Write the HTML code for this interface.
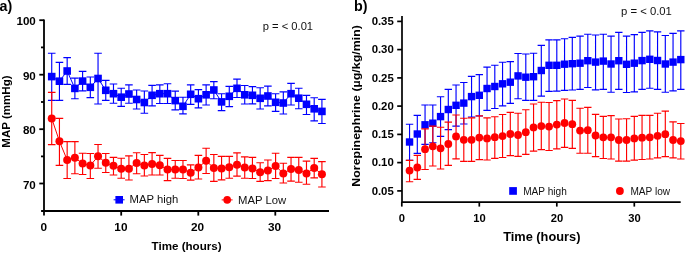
<!DOCTYPE html>
<html><head><meta charset="utf-8"><style>
html,body{margin:0;padding:0;background:#fff;}
body{width:685px;height:253px;overflow:hidden;}
svg{display:block;will-change:transform;}
</style></head><body>
<svg width="685" height="253" viewBox="0 0 685 253" font-family="&quot;Liberation Sans&quot;, sans-serif">
<rect width="685" height="253" fill="#fff"/>
<g stroke="#000" stroke-width="1.8" fill="none">
<path d="M44 19.4V211M41.1 211H329"/>
<path d="M39.3 20.2H44"/>
<path d="M39.3 74.7H44"/>
<path d="M39.3 129.2H44"/>
<path d="M39.3 183.5H44"/>
<path d="M41 47.4H44"/>
<path d="M41 102.0H44"/>
<path d="M41 156.4H44"/>
<path d="M44 211V215.6"/>
<path d="M121.2 211V215.6"/>
<path d="M198.3 211V215.6"/>
<path d="M275.3 211V215.6"/>
</g>
<g font-family="&quot;Liberation Sans&quot;, sans-serif" font-weight="bold" font-size="11.6" fill="#000" text-anchor="end">
<text x="35.8" y="25.3">100</text>
<text x="35.8" y="79.8">90</text>
<text x="35.8" y="134.3">80</text>
<text x="35.8" y="188.6">70</text>
</g>
<g font-family="&quot;Liberation Sans&quot;, sans-serif" font-weight="bold" font-size="11.8" fill="#000" text-anchor="middle">
<text x="43.8" y="230.6">0</text>
<text x="120.9" y="230.6">10</text>
<text x="197.6" y="230.6">20</text>
<text x="274.6" y="230.6">30</text>
</g>
<text x="186.6" y="250" font-family="&quot;Liberation Sans&quot;, sans-serif" font-weight="bold" font-size="11.6" text-anchor="middle">Time (hours)</text>
<text transform="translate(10.0 111.6) rotate(-90) scale(1.08 1)" font-family="&quot;Liberation Sans&quot;, sans-serif" font-weight="bold" font-size="10.7" text-anchor="middle">MAP (mmHg)</text>
<text x="-0.5" y="10.7" font-family="&quot;Liberation Sans&quot;, sans-serif" font-weight="bold" font-size="14.3">a)</text>
<text x="262.7" y="30.3" font-family="&quot;Liberation Sans&quot;, sans-serif" font-size="11.2" fill="#111">p = &lt; 0.01</text>
<path d="M113.6 199.8H124.6" stroke="#0000ff" stroke-width="1"/>
<rect x="115.4" y="196.0" width="7.6" height="7.6" fill="#0000ff"/>
<text x="129.6" y="203.2" font-family="&quot;Liberation Sans&quot;, sans-serif" font-size="11.3" fill="#111">MAP high</text>
<path d="M221.7 199.9H232.6" stroke="#ff0000" stroke-width="1"/>
<circle cx="227.2" cy="199.9" r="3.8" fill="#ff0000"/>
<text x="238" y="203.6" font-family="&quot;Liberation Sans&quot;, sans-serif" font-size="11.3" fill="#111">MAP Low</text>
<path d="M51.72 53.20V100.30M47.92 53.20H55.52M47.92 100.30H55.52M59.44 62.30V100.30M55.64 62.30H63.24M55.64 100.30H63.24M67.16 57.60V84.40M63.36 57.60H70.96M63.36 84.40H70.96M74.88 78.10V98.70M71.08 78.10H78.68M71.08 98.70H78.68M82.60 71.30V90.90M78.80 71.30H86.40M78.80 90.90H86.40M90.32 77.00V97.60M86.52 77.00H94.12M86.52 97.60H94.12M98.04 53.20V104.00M94.24 53.20H101.84M94.24 104.00H101.84M105.76 80.40V100.30M101.96 80.40H109.56M101.96 100.30H109.56M113.48 84.00V103.20M109.68 84.00H117.28M109.68 103.20H117.28M121.20 88.20V106.30M117.40 88.20H125.00M117.40 106.30H125.00M128.92 84.80V103.20M125.12 84.80H132.72M125.12 103.20H132.72M136.64 90.00V109.00M132.84 90.00H140.44M132.84 109.00H140.44M144.36 91.00V113.20M140.56 91.00H148.16M140.56 113.20H148.16M152.08 85.30V105.90M148.28 85.30H155.88M148.28 105.90H155.88M159.80 84.80V103.50M156.00 84.80H163.60M156.00 103.50H163.60M167.52 83.70V103.50M163.72 83.70H171.32M163.72 103.50H171.32M175.24 91.10V109.80M171.44 91.10H179.04M171.44 109.80H179.04M182.96 97.20V113.80M179.16 97.20H186.76M179.16 113.80H186.76M190.68 84.80V104.30M186.88 84.80H194.48M186.88 104.30H194.48M198.40 89.60V107.90M194.60 89.60H202.20M194.60 107.90H202.20M206.12 84.80V105.00M202.32 84.80H209.92M202.32 105.00H209.92M213.84 81.60V98.70M210.04 81.60H217.64M210.04 98.70H217.64M221.56 93.70V110.60M217.76 93.70H225.36M217.76 110.60H225.36M229.28 86.40V106.60M225.48 86.40H233.08M225.48 106.60H233.08M237.00 79.10V97.50M233.20 79.10H240.80M233.20 97.50H240.80M244.72 85.50V104.00M240.92 85.50H248.52M240.92 104.00H248.52M252.44 86.60V103.90M248.64 86.60H256.24M248.64 103.90H256.24M260.16 87.70V109.00M256.36 87.70H263.96M256.36 109.00H263.96M267.88 86.10V105.80M264.08 86.10H271.68M264.08 105.80H271.68M275.60 93.70V111.40M271.80 93.70H279.40M271.80 111.40H279.40M283.32 91.80V114.00M279.52 91.80H287.12M279.52 114.00H287.12M291.04 83.40V105.00M287.24 83.40H294.84M287.24 105.00H294.84M298.76 88.20V108.70M294.96 88.20H302.56M294.96 108.70H302.56M306.48 95.30V114.50M302.68 95.30H310.28M302.68 114.50H310.28M314.20 97.70V120.90M310.40 97.70H318.00M310.40 120.90H318.00M321.92 99.30V123.50M318.12 99.30H325.72M318.12 123.50H325.72" stroke="#0000ff" stroke-width="1.15" fill="none"/>
<polyline points="51.72,76.60 59.44,81.20 67.16,71.00 74.88,88.40 82.60,81.10 90.32,87.30 98.04,78.50 105.76,90.30 113.48,93.70 121.20,97.20 128.92,94.00 136.64,99.50 144.36,102.50 152.08,95.30 159.80,93.70 167.52,93.70 175.24,100.60 182.96,106.30 190.68,94.30 198.40,98.70 206.12,94.80 213.84,90.00 221.56,101.90 229.28,96.30 237.00,88.30 244.72,94.80 252.44,95.30 260.16,98.30 267.88,96.00 275.60,102.30 283.32,103.00 291.04,93.70 298.76,98.20 306.48,104.30 314.20,108.80 321.92,111.40" stroke="#0000ff" stroke-width="1.0" fill="none"/>
<g fill="#0000ff"><rect x="47.92" y="72.80" width="7.6" height="7.6"/><rect x="55.64" y="77.40" width="7.6" height="7.6"/><rect x="63.36" y="67.20" width="7.6" height="7.6"/><rect x="71.08" y="84.60" width="7.6" height="7.6"/><rect x="78.80" y="77.30" width="7.6" height="7.6"/><rect x="86.52" y="83.50" width="7.6" height="7.6"/><rect x="94.24" y="74.70" width="7.6" height="7.6"/><rect x="101.96" y="86.50" width="7.6" height="7.6"/><rect x="109.68" y="89.90" width="7.6" height="7.6"/><rect x="117.40" y="93.40" width="7.6" height="7.6"/><rect x="125.12" y="90.20" width="7.6" height="7.6"/><rect x="132.84" y="95.70" width="7.6" height="7.6"/><rect x="140.56" y="98.70" width="7.6" height="7.6"/><rect x="148.28" y="91.50" width="7.6" height="7.6"/><rect x="156.00" y="89.90" width="7.6" height="7.6"/><rect x="163.72" y="89.90" width="7.6" height="7.6"/><rect x="171.44" y="96.80" width="7.6" height="7.6"/><rect x="179.16" y="102.50" width="7.6" height="7.6"/><rect x="186.88" y="90.50" width="7.6" height="7.6"/><rect x="194.60" y="94.90" width="7.6" height="7.6"/><rect x="202.32" y="91.00" width="7.6" height="7.6"/><rect x="210.04" y="86.20" width="7.6" height="7.6"/><rect x="217.76" y="98.10" width="7.6" height="7.6"/><rect x="225.48" y="92.50" width="7.6" height="7.6"/><rect x="233.20" y="84.50" width="7.6" height="7.6"/><rect x="240.92" y="91.00" width="7.6" height="7.6"/><rect x="248.64" y="91.50" width="7.6" height="7.6"/><rect x="256.36" y="94.50" width="7.6" height="7.6"/><rect x="264.08" y="92.20" width="7.6" height="7.6"/><rect x="271.80" y="98.50" width="7.6" height="7.6"/><rect x="279.52" y="99.20" width="7.6" height="7.6"/><rect x="287.24" y="89.90" width="7.6" height="7.6"/><rect x="294.96" y="94.40" width="7.6" height="7.6"/><rect x="302.68" y="100.50" width="7.6" height="7.6"/><rect x="310.40" y="105.00" width="7.6" height="7.6"/><rect x="318.12" y="107.60" width="7.6" height="7.6"/></g>
<path d="M51.72 92.40V144.60M47.92 92.40H55.52M47.92 144.60H55.52M59.44 118.40V165.30M55.64 118.40H63.24M55.64 165.30H63.24M67.16 141.60V178.50M63.36 141.60H70.96M63.36 178.50H70.96M74.88 141.60V173.70M71.08 141.60H78.68M71.08 173.70H78.68M82.60 153.20V174.50M78.80 153.20H86.40M78.80 174.50H86.40M90.32 153.50V178.50M86.52 153.50H94.12M86.52 178.50H94.12M98.04 144.50V168.20M94.24 144.50H101.84M94.24 168.20H101.84M105.76 153.50V172.50M101.96 153.50H109.56M101.96 172.50H109.56M113.48 157.40V175.00M109.68 157.40H117.28M109.68 175.00H117.28M121.20 158.20V178.20M117.40 158.20H125.00M117.40 178.20H125.00M128.92 155.90V180.00M125.12 155.90H132.72M125.12 180.00H132.72M136.64 152.70V173.70M132.84 152.70H140.44M132.84 173.70H140.44M144.36 154.50V176.00M140.56 154.50H148.16M140.56 176.00H148.16M152.08 152.60V175.00M148.28 152.60H155.88M148.28 175.00H155.88M159.80 155.30V175.00M156.00 155.30H163.60M156.00 175.00H163.60M167.52 158.40V180.60M163.72 158.40H171.32M163.72 180.60H171.32M175.24 160.50V178.20M171.44 160.50H179.04M171.44 178.20H179.04M182.96 160.50V178.50M179.16 160.50H186.76M179.16 178.50H186.76M190.68 164.80V180.10M186.88 164.80H194.48M186.88 180.10H194.48M198.40 155.30V179.00M194.60 155.30H202.20M194.60 179.00H202.20M206.12 148.20V173.50M202.32 148.20H209.92M202.32 173.50H209.92M213.84 154.50V181.40M210.04 154.50H217.64M210.04 181.40H217.64M221.56 156.40V179.80M217.76 156.40H225.36M217.76 179.80H225.36M229.28 156.40V178.20M225.48 156.40H233.08M225.48 178.20H233.08M237.00 152.90V176.10M233.20 152.90H240.80M233.20 176.10H240.80M244.72 156.90V178.20M240.92 156.90H248.52M240.92 178.20H248.52M252.44 157.30V178.50M248.64 157.30H256.24M248.64 178.50H256.24M260.16 162.70V181.40M256.36 162.70H263.96M256.36 181.40H263.96M267.88 160.00V180.60M264.08 160.00H271.68M264.08 180.60H271.68M275.60 153.20V178.50M271.80 153.20H279.40M271.80 178.50H279.40M283.32 163.20V183.00M279.52 163.20H287.12M279.52 183.00H287.12M291.04 157.30V181.10M287.24 157.30H294.84M287.24 181.10H294.84M298.76 157.30V182.20M294.96 157.30H302.56M294.96 182.20H302.56M306.48 161.10V184.20M302.68 161.10H310.28M302.68 184.20H310.28M314.20 158.40V177.90M310.40 158.40H318.00M310.40 177.90H318.00M321.92 161.60V187.00M318.12 161.60H325.72M318.12 187.00H325.72" stroke="#ff0000" stroke-width="1.15" fill="none"/>
<polyline points="51.72,118.40 59.44,141.30 67.16,160.00 74.88,157.70 82.60,163.60 90.32,165.50 98.04,156.30 105.76,162.80 113.48,165.80 121.20,168.70 128.92,168.70 136.64,163.00 144.36,165.50 152.08,164.00 159.80,165.30 167.52,169.50 175.24,169.50 182.96,169.50 190.68,172.70 198.40,167.50 206.12,160.80 213.84,168.00 221.56,168.40 229.28,167.20 237.00,164.80 244.72,167.50 252.44,168.40 260.16,172.20 267.88,170.60 275.60,166.00 283.32,173.50 291.04,169.00 298.76,170.00 306.48,173.50 314.20,168.00 321.92,174.30" stroke="#ff0000" stroke-width="1.0" fill="none"/>
<g fill="#ff0000"><circle cx="51.72" cy="118.40" r="4.00"/><circle cx="59.44" cy="141.30" r="4.00"/><circle cx="67.16" cy="160.00" r="4.00"/><circle cx="74.88" cy="157.70" r="4.00"/><circle cx="82.60" cy="163.60" r="4.00"/><circle cx="90.32" cy="165.50" r="4.00"/><circle cx="98.04" cy="156.30" r="4.00"/><circle cx="105.76" cy="162.80" r="4.00"/><circle cx="113.48" cy="165.80" r="4.00"/><circle cx="121.20" cy="168.70" r="4.00"/><circle cx="128.92" cy="168.70" r="4.00"/><circle cx="136.64" cy="163.00" r="4.00"/><circle cx="144.36" cy="165.50" r="4.00"/><circle cx="152.08" cy="164.00" r="4.00"/><circle cx="159.80" cy="165.30" r="4.00"/><circle cx="167.52" cy="169.50" r="4.00"/><circle cx="175.24" cy="169.50" r="4.00"/><circle cx="182.96" cy="169.50" r="4.00"/><circle cx="190.68" cy="172.70" r="4.00"/><circle cx="198.40" cy="167.50" r="4.00"/><circle cx="206.12" cy="160.80" r="4.00"/><circle cx="213.84" cy="168.00" r="4.00"/><circle cx="221.56" cy="168.40" r="4.00"/><circle cx="229.28" cy="167.20" r="4.00"/><circle cx="237.00" cy="164.80" r="4.00"/><circle cx="244.72" cy="167.50" r="4.00"/><circle cx="252.44" cy="168.40" r="4.00"/><circle cx="260.16" cy="172.20" r="4.00"/><circle cx="267.88" cy="170.60" r="4.00"/><circle cx="275.60" cy="166.00" r="4.00"/><circle cx="283.32" cy="173.50" r="4.00"/><circle cx="291.04" cy="169.00" r="4.00"/><circle cx="298.76" cy="170.00" r="4.00"/><circle cx="306.48" cy="173.50" r="4.00"/><circle cx="314.20" cy="168.00" r="4.00"/><circle cx="321.92" cy="174.30" r="4.00"/></g>
<g stroke="#000" stroke-width="1.7" fill="none">
<path d="M402 15.9V202.1M401.1 202.1H680.7"/>
<path d="M397.2 21.4H402"/>
<path d="M397.2 49.6H402"/>
<path d="M397.2 77.9H402"/>
<path d="M397.2 106.1H402"/>
<path d="M397.2 134.4H402"/>
<path d="M397.2 162.6H402"/>
<path d="M397.2 190.9H402"/>
<path d="M401.8 202.1V206.6"/>
<path d="M479.3 202.1V206.6"/>
<path d="M556.8 202.1V206.6"/>
<path d="M634.3 202.1V206.6"/>
</g>
<g font-family="&quot;Liberation Sans&quot;, sans-serif" font-weight="bold" font-size="11.4" fill="#000" text-anchor="end">
<text x="393.8" y="25.1">0.35</text>
<text x="393.8" y="53.3">0.30</text>
<text x="393.8" y="81.6">0.25</text>
<text x="393.8" y="109.8">0.20</text>
<text x="393.8" y="138.1">0.15</text>
<text x="393.8" y="166.3">0.10</text>
<text x="393.8" y="194.6">0.05</text>
</g>
<g font-family="&quot;Liberation Sans&quot;, sans-serif" font-weight="bold" font-size="11.2" fill="#000" text-anchor="middle">
<text x="401.9" y="221.7">0</text>
<text x="479.6" y="221.7">10</text>
<text x="557.1" y="221.7">20</text>
<text x="634.6" y="221.7">30</text>
</g>
<text x="541.8" y="241" font-family="&quot;Liberation Sans&quot;, sans-serif" font-weight="bold" font-size="12.8" text-anchor="middle">Time (hours)</text>
<text transform="translate(360.3 105.9) rotate(-90) scale(1.13 1)" font-family="&quot;Liberation Sans&quot;, sans-serif" font-weight="bold" font-size="11" text-anchor="middle">Norepinephrine (µg/kg/min)</text>
<text x="354" y="10.7" font-family="&quot;Liberation Sans&quot;, sans-serif" font-weight="bold" font-size="14.3">b)</text>
<text x="621" y="14.7" font-family="&quot;Liberation Sans&quot;, sans-serif" font-size="11.3" fill="#111">p = &lt; 0.01</text>
<rect x="509.2" y="187.1" width="7.7" height="7.7" fill="#0000ff"/>
<text x="523.2" y="194.9" font-family="&quot;Liberation Sans&quot;, sans-serif" font-size="10.1" fill="#111">MAP high</text>
<circle cx="619.9" cy="191" r="3.9" fill="#ff0000"/>
<text x="630.4" y="194.9" font-family="&quot;Liberation Sans&quot;, sans-serif" font-size="10.1" fill="#111">MAP low</text>
<path d="M409.55 124.20V160.30M405.85 124.20H413.25M405.85 160.30H413.25M417.30 115.30V153.30M413.60 115.30H421.00M413.60 153.30H421.00M425.05 105.00V144.30M421.35 105.00H428.75M421.35 144.30H428.75M432.80 105.00V142.70M429.10 105.00H436.50M429.10 142.70H436.50M440.55 96.70V136.40M436.85 96.70H444.25M436.85 136.40H444.25M448.30 89.30V129.60M444.60 89.30H452.00M444.60 129.60H452.00M456.05 85.00V126.10M452.35 85.00H459.75M452.35 126.10H459.75M463.80 82.50V124.00M460.10 82.50H467.50M460.10 124.00H467.50M471.55 76.30V117.00M467.85 76.30H475.25M467.85 117.00H475.25M479.30 74.60V116.00M475.60 74.60H483.00M475.60 116.00H483.00M487.05 67.10V110.30M483.35 67.10H490.75M483.35 110.30H490.75M494.80 65.20V108.50M491.10 65.20H498.50M491.10 108.50H498.50M502.55 62.20V105.80M498.85 62.20H506.25M498.85 105.80H506.25M510.30 61.60V103.40M506.60 61.60H514.00M506.60 103.40H514.00M518.05 53.50V98.70M514.35 53.50H521.75M514.35 98.70H521.75M525.80 54.00V100.30M522.10 54.00H529.50M522.10 100.30H529.50M533.55 53.20V100.30M529.85 53.20H537.25M529.85 100.30H537.25M541.30 45.30V96.10M537.60 45.30H545.00M537.60 96.10H545.00M549.05 39.80V91.40M545.35 39.80H552.75M545.35 91.40H552.75M556.80 39.80V91.10M553.10 39.80H560.50M553.10 91.10H560.50M564.55 38.70V90.30M560.85 38.70H568.25M560.85 90.30H568.25M572.30 37.40V90.00M568.60 37.40H576.00M568.60 90.00H576.00M580.05 36.10V89.30M576.35 36.10H583.75M576.35 89.30H583.75M587.80 34.20V87.50M584.10 34.20H591.50M584.10 87.50H591.50M595.55 35.00V89.80M591.85 35.00H599.25M591.85 89.80H599.25M603.30 34.20V89.30M599.60 34.20H607.00M599.60 89.30H607.00M611.05 36.10V92.20M607.35 36.10H614.75M607.35 92.20H614.75M618.80 32.30V89.30M615.10 32.30H622.50M615.10 89.30H622.50M626.55 36.10V92.50M622.85 36.10H630.25M622.85 92.50H630.25M634.30 34.60V91.80M630.60 34.60H638.00M630.60 91.80H638.00M642.05 32.30V89.30M638.35 32.30H645.75M638.35 89.30H645.75M649.80 30.80V88.20M646.10 30.80H653.50M646.10 88.20H653.50M657.55 31.90V89.30M653.85 31.90H661.25M653.85 89.30H661.25M665.30 35.50V92.20M661.60 35.50H669.00M661.60 92.20H669.00M673.05 33.40V90.90M669.35 33.40H676.75M669.35 90.90H676.75M680.80 30.80V89.30M677.10 30.80H684.50M677.10 89.30H684.50" stroke="#0000ff" stroke-width="1.15" fill="none"/>
<g fill="#0000ff"><rect x="405.85" y="138.30" width="7.4" height="7.4"/><rect x="413.60" y="130.30" width="7.4" height="7.4"/><rect x="421.35" y="121.10" width="7.4" height="7.4"/><rect x="429.10" y="119.50" width="7.4" height="7.4"/><rect x="436.85" y="112.90" width="7.4" height="7.4"/><rect x="444.60" y="105.80" width="7.4" height="7.4"/><rect x="452.35" y="101.60" width="7.4" height="7.4"/><rect x="460.10" y="99.40" width="7.4" height="7.4"/><rect x="467.85" y="92.90" width="7.4" height="7.4"/><rect x="475.60" y="91.60" width="7.4" height="7.4"/><rect x="483.35" y="84.80" width="7.4" height="7.4"/><rect x="491.10" y="82.80" width="7.4" height="7.4"/><rect x="498.85" y="80.10" width="7.4" height="7.4"/><rect x="506.60" y="78.50" width="7.4" height="7.4"/><rect x="514.35" y="72.20" width="7.4" height="7.4"/><rect x="522.10" y="73.50" width="7.4" height="7.4"/><rect x="529.85" y="73.00" width="7.4" height="7.4"/><rect x="537.60" y="66.80" width="7.4" height="7.4"/><rect x="545.35" y="61.60" width="7.4" height="7.4"/><rect x="553.10" y="61.60" width="7.4" height="7.4"/><rect x="560.85" y="60.50" width="7.4" height="7.4"/><rect x="568.60" y="60.00" width="7.4" height="7.4"/><rect x="576.35" y="59.50" width="7.4" height="7.4"/><rect x="584.10" y="57.00" width="7.4" height="7.4"/><rect x="591.85" y="58.40" width="7.4" height="7.4"/><rect x="599.60" y="57.40" width="7.4" height="7.4"/><rect x="607.35" y="60.30" width="7.4" height="7.4"/><rect x="615.10" y="57.00" width="7.4" height="7.4"/><rect x="622.85" y="60.60" width="7.4" height="7.4"/><rect x="630.60" y="59.50" width="7.4" height="7.4"/><rect x="638.35" y="56.90" width="7.4" height="7.4"/><rect x="646.10" y="55.60" width="7.4" height="7.4"/><rect x="653.85" y="56.80" width="7.4" height="7.4"/><rect x="661.60" y="60.30" width="7.4" height="7.4"/><rect x="669.35" y="58.40" width="7.4" height="7.4"/><rect x="677.10" y="55.90" width="7.4" height="7.4"/></g>
<path d="M409.55 160.30V181.70M405.85 160.30H413.25M405.85 181.70H413.25M417.30 155.30V179.30M413.60 155.30H421.00M413.60 179.30H421.00M425.05 128.90V169.50M421.35 128.90H428.75M421.35 169.50H428.75M432.80 126.10V166.00M429.10 126.10H436.50M429.10 166.00H436.50M440.55 127.20V169.00M436.85 127.20H444.25M436.85 169.00H444.25M448.30 122.10V165.30M444.60 122.10H452.00M444.60 165.30H452.00M456.05 115.00V158.90M452.35 115.00H459.75M452.35 158.90H459.75M463.80 118.20V161.30M460.10 118.20H467.50M460.10 161.30H467.50M471.55 117.80V161.30M467.85 117.80H475.25M467.85 161.30H475.25M479.30 115.80V159.60M475.60 115.80H483.00M475.60 159.60H483.00M487.05 117.80V160.00M483.35 117.80H490.75M483.35 160.00H490.75M494.80 116.70V158.40M491.10 116.70H498.50M491.10 158.40H498.50M502.55 114.50V157.50M498.85 114.50H506.25M498.85 157.50H506.25M510.30 112.40V155.60M506.60 112.40H514.00M506.60 155.60H514.00M518.05 113.20V156.40M514.35 113.20H521.75M514.35 156.40H521.75M525.80 109.70V154.30M522.10 109.70H529.50M522.10 154.30H529.50M533.55 104.00V151.10M529.85 104.00H537.25M529.85 151.10H537.25M541.30 102.20V149.60M537.60 102.20H545.00M537.60 149.60H545.00M549.05 102.50V150.50M545.35 102.50H552.75M545.35 150.50H552.75M556.80 100.60V148.90M553.10 100.60H560.50M553.10 148.90H560.50M564.55 99.00V147.30M560.85 99.00H568.25M560.85 147.30H568.25M572.30 100.30V148.40M568.60 100.30H576.00M568.60 148.40H576.00M580.05 108.20V153.20M576.35 108.20H583.75M576.35 153.20H583.75M587.80 107.30V153.20M584.10 107.30H591.50M584.10 153.20H591.50M595.55 114.30V156.60M591.85 114.30H599.25M591.85 156.60H599.25M603.30 116.40V158.50M599.60 116.40H607.00M599.60 158.50H607.00M611.05 115.60V159.00M607.35 115.60H614.75M607.35 159.00H614.75M618.80 119.00V161.10M615.10 119.00H622.50M615.10 161.10H622.50M626.55 118.70V161.10M622.85 118.70H630.25M622.85 161.10H630.25M634.30 116.40V160.10M630.60 116.40H638.00M630.60 160.10H638.00M642.05 115.30V159.50M638.35 115.30H645.75M638.35 159.50H645.75M649.80 115.30V159.00M646.10 115.30H653.50M646.10 159.00H653.50M657.55 113.20V157.90M653.85 113.20H661.25M653.85 157.90H661.25M665.30 111.10V156.60M661.60 111.10H669.00M661.60 156.60H669.00M673.05 121.90V157.90M669.35 121.90H676.75M669.35 157.90H676.75M680.80 123.50V159.00M677.10 123.50H684.50M677.10 159.00H684.50" stroke="#ff0000" stroke-width="1.15" fill="none"/>
<g fill="#ff0000"><circle cx="409.55" cy="170.60" r="3.90"/><circle cx="417.30" cy="167.50" r="3.90"/><circle cx="425.05" cy="149.20" r="3.90"/><circle cx="432.80" cy="146.30" r="3.90"/><circle cx="440.55" cy="148.30" r="3.90"/><circle cx="448.30" cy="144.00" r="3.90"/><circle cx="456.05" cy="136.40" r="3.90"/><circle cx="463.80" cy="139.80" r="3.90"/><circle cx="471.55" cy="139.80" r="3.90"/><circle cx="479.30" cy="137.60" r="3.90"/><circle cx="487.05" cy="138.40" r="3.90"/><circle cx="494.80" cy="137.20" r="3.90"/><circle cx="502.55" cy="136.10" r="3.90"/><circle cx="510.30" cy="134.00" r="3.90"/><circle cx="518.05" cy="135.00" r="3.90"/><circle cx="525.80" cy="132.20" r="3.90"/><circle cx="533.55" cy="127.40" r="3.90"/><circle cx="541.30" cy="126.10" r="3.90"/><circle cx="549.05" cy="126.60" r="3.90"/><circle cx="556.80" cy="124.60" r="3.90"/><circle cx="564.55" cy="123.00" r="3.90"/><circle cx="572.30" cy="124.20" r="3.90"/><circle cx="580.05" cy="130.60" r="3.90"/><circle cx="587.80" cy="130.20" r="3.90"/><circle cx="595.55" cy="135.50" r="3.90"/><circle cx="603.30" cy="137.30" r="3.90"/><circle cx="611.05" cy="137.30" r="3.90"/><circle cx="618.80" cy="140.00" r="3.90"/><circle cx="626.55" cy="140.00" r="3.90"/><circle cx="634.30" cy="138.40" r="3.90"/><circle cx="642.05" cy="137.70" r="3.90"/><circle cx="649.80" cy="137.30" r="3.90"/><circle cx="657.55" cy="135.80" r="3.90"/><circle cx="665.30" cy="134.20" r="3.90"/><circle cx="673.05" cy="140.00" r="3.90"/><circle cx="680.80" cy="141.10" r="3.90"/></g>
</svg>
</body></html>
